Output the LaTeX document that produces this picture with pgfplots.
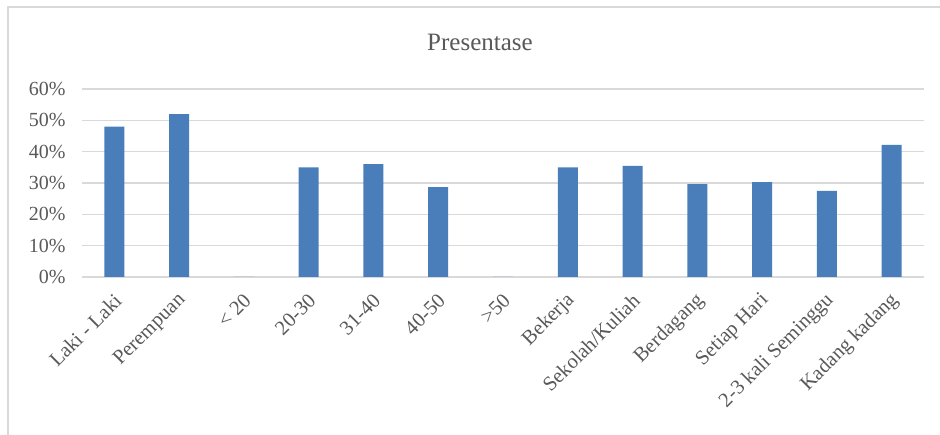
\documentclass[border=0pt]{standalone}
\usepackage{pgfplots}
\pgfplotsset{compat=1.18}
\usepackage{fontspec}
\setmainfont{Liberation Serif}
\definecolor{barblue}{HTML}{4A7EBB}
\definecolor{gridgray}{HTML}{D9D9D9}
\definecolor{txtgray}{HTML}{595959}
\begin{document}
\begin{tikzpicture}[x=1pt,y=1pt]
\useasboundingbox (0,0) rectangle (940,435);
\fill[white] (0,0) rectangle (940,435);
\draw[gridgray, line width=1.6pt] (8,0) -- (8,428) -- (941,428);
\node[txtgray, font=\fontsize{25}{30}\selectfont] at (480,393) {Presentase};
\begin{axis}[
  at={(82pt,158pt)}, anchor=south west,
  scale only axis, width=842pt, height=188pt,
  xmin=-0.5, xmax=12.5, ymin=0, ymax=60,
  ybar, bar width=20pt,
  axis line style={draw=none},
  major tick length=0pt,
  ymajorgrids, grid style={gridgray, line width=1.3pt},
  ytick={0,10,20,30,40,50,60},
  yticklabels={0\%,10\%,20\%,30\%,40\%,50\%,60\%},
  yticklabel style={font=\fontsize{20}{22}\selectfont, text=txtgray, xshift=-13pt},
  xtick={0,1,...,12},
  xticklabels={Laki - Laki, Perempuan, < 20, 20-30, 31-40, 40-50, >50, Bekerja, Sekolah/Kuliah, Berdagang, Setiap Hari, 2-3 kali Seminggu, Kadang kadang},
  xticklabel style={font=\fontsize{20.5}{22}\selectfont, text=txtgray, xshift=6pt, yshift=-18pt, rotate=45, anchor=east},
]
\addplot[fill=barblue, draw=none] coordinates {
(0,48) (1,52) (2,0) (3,35) (4,36) (5,28.7) (6,0) (7,35) (8,35.5) (9,29.6) (10,30.3) (11,27.5) (12,42.2)
};
\end{axis}
\end{tikzpicture}
\end{document}
